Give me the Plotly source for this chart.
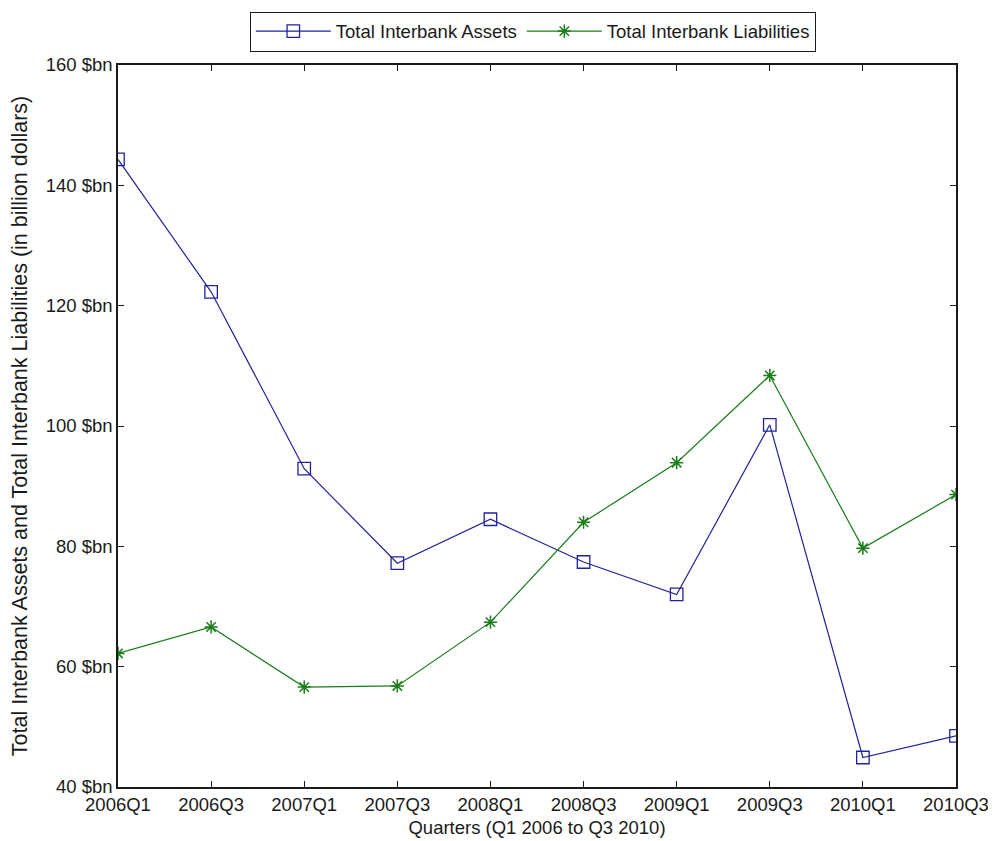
import plotly.graph_objects as go

quarters = ["2006Q1", "2006Q3", "2007Q1", "2007Q3", "2008Q1",
            "2008Q3", "2009Q1", "2009Q3", "2010Q1", "2010Q3"]
assets = [144.3, 122.3, 92.9, 77.2, 84.5, 77.4, 72.0, 100.2, 44.9, 48.5]
liabilities = [62.2, 66.6, 56.6, 56.8, 67.4, 84.0, 93.9, 108.4, 79.7, 88.6]
ytick_vals = [40, 60, 80, 100, 120, 140, 160]
ytick_text = [f"{v} $bn" for v in ytick_vals]

FONT = "Liberation Sans, Arial, sans-serif"
BLUE = "#22229c"
GREEN = "#1a7d1a"
TXT = "#1a1a1a"

xs = list(range(len(quarters)))

fig = go.Figure()
fig.add_trace(go.Scatter(
    x=xs, y=assets, mode="lines+markers", name="Total Interbank Assets",
    line=dict(color=BLUE, width=1.2),
    marker=dict(symbol="square-open", size=12.5, color=BLUE, line=dict(width=1.3, color=BLUE)),
))
fig.add_trace(go.Scatter(
    x=xs, y=liabilities, mode="lines+markers", name="Total Interbank Liabilities",
    line=dict(color=GREEN, width=1.2),
    marker=dict(symbol="asterisk-open", size=11, color=GREEN, line=dict(width=1.5, color=GREEN)),
))

# page body has an 8px default margin; the figure is sized to fill the 996x841 window exactly
fig.update_layout(
    width=988, height=833,
    margin=dict(l=110, r=40, t=57, b=54, autoexpand=False),
    paper_bgcolor="white", plot_bgcolor="white",
    font=dict(family=FONT, size=18, color=TXT),
    showlegend=True,
    legend=dict(
        orientation="h", x=0.495, xanchor="center", y=1.074, yanchor="top",
        bordercolor=TXT, borderwidth=1, bgcolor="white",
        font=dict(family=FONT, size=18.5, color=TXT),
        itemwidth=75, tracegroupgap=0,
    ),
    xaxis=dict(
        range=[0, 9], tickvals=xs, ticktext=quarters,
        showgrid=False, zeroline=False, automargin=False,
        showline=True, linecolor=TXT, linewidth=1.5, mirror="ticks",
        ticks="inside", ticklen=6, tickcolor=TXT,
        title=dict(text="Quarters (Q1 2006 to Q3 2010)", standoff=7,
                   font=dict(family=FONT, size=18.5)),
        tickfont=dict(family=FONT, size=18.5),
    ),
    yaxis=dict(
        range=[40, 160], tickvals=ytick_vals, ticktext=ytick_text,
        showgrid=False, zeroline=False, automargin=False,
        showline=True, linecolor=TXT, linewidth=1.5, mirror="ticks",
        ticks="inside", ticklen=6, tickcolor=TXT,
        title=dict(text="Total Interbank Assets and Total Interbank Liabilities (in billion dollars)",
                   standoff=12, font=dict(family=FONT, size=21.5)),
        tickfont=dict(family=FONT, size=18.5),
    ),
)

fig.write_html("out.html")
